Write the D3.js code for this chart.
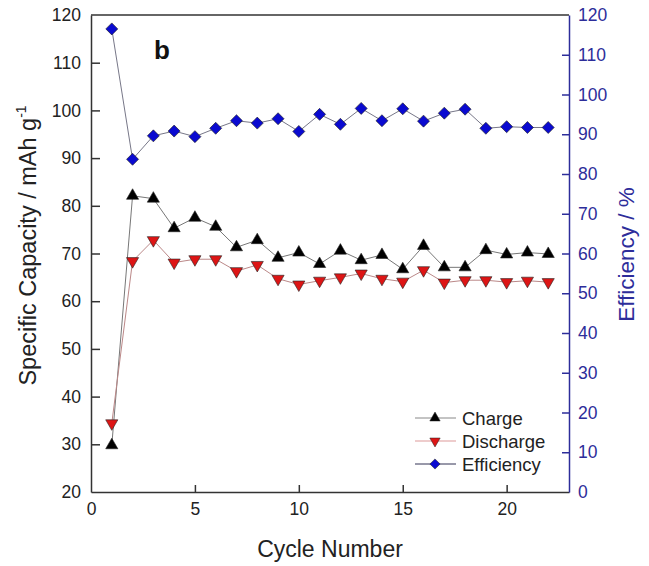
<!DOCTYPE html>
<html><head><meta charset="utf-8">
<script src="https://cdn.jsdelivr.net/npm/d3@7"></script>
<style>body{margin:0;background:#fff}svg{display:block;font-family:"Liberation Sans",Arial,sans-serif}</style>
</head><body><svg id="c" width="649" height="566"></svg>
<script>
const cycles = [1,2,3,4,5,6,7,8,9,10,11,12,13,14,15,16,17,18,19,20,21,22];
const charge = [29.8,82.1,81.5,75.3,77.5,75.6,71.3,72.8,69.1,70.2,67.8,70.6,68.6,69.7,66.7,71.6,67.1,67.1,70.7,69.8,70.2,69.9];
const discharge = [34.4,68.4,72.8,68.1,68.8,68.8,66.3,67.6,64.7,63.5,64.3,65.0,65.8,64.7,64.1,66.5,63.9,64.4,64.4,64.0,64.3,64.0];
const efficiency = [116.5,83.7,89.6,90.8,89.4,91.5,93.4,92.8,93.9,90.7,95.0,92.5,96.5,93.4,96.4,93.3,95.3,96.3,91.5,91.9,91.7,91.7];
const xTicks = [0,5,10,15,20];
const yLeftTicks = [20,30,40,50,60,70,80,90,100,110,120];
const yRightTicks = [0,10,20,30,40,50,60,70,80,90,100,110,120];
const legendLabels = ["Charge","Discharge","Efficiency"];

const svg = d3.select("#c");
const L = 91, R = 569, T = 15, B = 492;
const blue = "#2d2d9a";
const x = d3.scaleLinear().domain([0,23]).range([L,R]);
const yL = d3.scaleLinear().domain([20,120]).range([B,T]);
const yR = d3.scaleLinear().domain([0,120]).range([B,T]);

// top border
svg.append("line").attr("x1",L).attr("x2",R).attr("y1",T).attr("y2",T).attr("stroke","#333").attr("stroke-width",1.5);

const gx = svg.append("g").attr("transform",`translate(0,${B})`)
  .call(d3.axisBottom(x).tickValues(xTicks).tickSizeInner(-7).tickSizeOuter(0).tickPadding(11));
const gl = svg.append("g").attr("transform",`translate(${L},0)`)
  .call(d3.axisLeft(yL).tickValues(yLeftTicks).tickSizeInner(-9).tickSizeOuter(0).tickPadding(10));
const gr = svg.append("g").attr("transform",`translate(${R},0)`)
  .call(d3.axisRight(yR).tickValues(yRightTicks).tickSizeInner(-7).tickSizeOuter(0).tickPadding(9));
[gx,gl].forEach(g=>{
  g.selectAll("path,line").attr("stroke","#333").attr("stroke-width",1.5);
  g.selectAll("text").attr("font-size",17.5).attr("fill","#222").attr("font-family","Liberation Sans, Arial, sans-serif");
});
gr.selectAll("path,line").attr("stroke",blue).attr("stroke-width",1.5);
gr.selectAll("text").attr("font-size",17.5).attr("fill",blue).attr("font-family","Liberation Sans, Arial, sans-serif");
gl.selectAll(".tick").filter(d=>d===20||d===120).select("line").remove();
gr.selectAll(".tick").filter(d=>d===0||d===120).select("line").remove();
gx.selectAll(".tick").filter(d=>d===0).select("line").remove();

// titles
svg.append("text").attr("x",(L+R)/2).attr("y",557).attr("text-anchor","middle")
  .attr("font-size",23).attr("fill","#222").text("Cycle Number");
const yt = svg.append("text").attr("transform",`translate(36,${(T+B)/2-8}) rotate(-90)`)
  .attr("text-anchor","middle").attr("font-size",23.5).attr("fill","#222");
yt.append("tspan").text("Specific Capacity / mAh g");
yt.append("tspan").attr("font-size",14).attr("dy",-10).text("-1");
svg.append("text").attr("transform",`translate(634,${(T+B)/2+1}) rotate(-90)`)
  .attr("text-anchor","middle").attr("font-size",22.5).attr("fill",blue).text("Efficiency / %");
svg.append("text").attr("x",154).attr("y",59).attr("font-size",26).attr("font-weight","bold").attr("fill","#111").text("b");

const triUp = d3.symbol().type(d3.symbolTriangle).size(64);
const diamond = d3.symbol().type(d3.symbolSquare).size(72);

function series(vals, yscale, lineColor, markerFn, fill, rot){
  const line = d3.line().x((d,i)=>x(cycles[i])).y(d=>yscale(d));
  svg.append("path").datum(vals).attr("d",line).attr("fill","none").attr("stroke",lineColor).attr("stroke-width",1);
  svg.append("g").selectAll("path").data(vals).join("path")
    .attr("d",markerFn).attr("transform",(d,i)=>`translate(${x(cycles[i])},${yscale(d)}) rotate(${rot})`)
    .attr("fill",fill).attr("stroke","#222").attr("stroke-width",0.6);
}
series(charge, yL, "#777", triUp, "#000", 0);
series(discharge, yL, "#b88", triUp, "#dd1515", 180);
series(efficiency, yR, "#778", diamond, "#0a0ad0", 45);

// legend
const lg = [
  {m:triUp, fill:"#000", rot:0, lc:"#888"},
  {m:triUp, fill:"#dd1515", rot:180, lc:"#d99"},
  {m:diamond, fill:"#0a0ad0", rot:45, lc:"#335"}
];
legendLabels.forEach((lab,i)=>{
  const yy = 418 + i*23;
  svg.append("line").attr("x1",415).attr("x2",456).attr("y1",yy).attr("y2",yy).attr("stroke",lg[i].lc).attr("stroke-width",1);
  svg.append("path").attr("d",lg[i].m).attr("transform",`translate(435,${yy}) rotate(${lg[i].rot}) scale(0.85)`)
    .attr("fill",lg[i].fill).attr("stroke","#222").attr("stroke-width",0.6);
  svg.append("text").attr("x",462).attr("y",yy+6.5).attr("font-size",18.5).attr("fill","#222").text(lab);
});
</script></body></html>
